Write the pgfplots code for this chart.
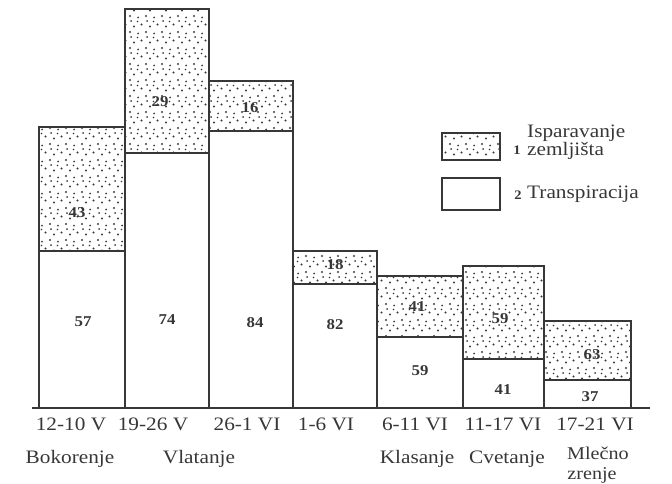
\documentclass[border=0pt]{standalone}
\usepackage{pgfplots}
\pgfplotsset{compat=1.18}
\usetikzlibrary{patterns}
\usepackage{fontspec}
\setmainfont{Liberation Serif}[FakeStretch=1.12]
\definecolor{ink}{RGB}{55,55,55}
\definecolor{dotc}{RGB}{60,60,60}
\pgfdeclarepatternformonly{sparsedots}{\pgfqpoint{-2pt}{-2pt}}{\pgfqpoint{18pt}{18pt}}{\pgfqpoint{16pt}{16pt}}{%
  \pgfpathcircle{\pgfqpoint{2pt}{3pt}}{1.2pt}%
  \pgfpathcircle{\pgfqpoint{10pt}{1.5pt}}{1.0pt}%
  \pgfpathcircle{\pgfqpoint{6pt}{8.5pt}}{1.1pt}%
  \pgfpathcircle{\pgfqpoint{13.5pt}{10.5pt}}{1.2pt}%
  \pgfpathcircle{\pgfqpoint{3pt}{14pt}}{1.0pt}%
  \pgfpathcircle{\pgfqpoint{9.5pt}{13.5pt}}{0.8pt}%
  \pgfusepath{fill}}
\begin{document}
\begin{tikzpicture}
\begin{axis}[
  scale only axis, width=672pt, height=483pt,
  xmin=0, xmax=672, ymin=-75, ymax=408,
  hide axis, clip=false,
  every axis plot/.append style={line width=1.6pt, draw=ink, mark=none, line join=miter},
  lowbar/.style={fill=white},
  topbar/.style={pattern=sparsedots, pattern color=dotc},
]
\path (axis cs:0,-75) rectangle (axis cs:672,408);
% Transpiracija (lower parts)
\addplot[lowbar] coordinates {(39,0) (39,157) (125,157) (125,0)} -- cycle;
\addplot[lowbar] coordinates {(125,0) (125,255) (209,255) (209,0)} -- cycle;
\addplot[lowbar] coordinates {(209,0) (209,277) (293,277) (293,0)} -- cycle;
\addplot[lowbar] coordinates {(293,0) (293,124) (377,124) (377,0)} -- cycle;
\addplot[lowbar] coordinates {(377,0) (377,71) (463,71) (463,0)} -- cycle;
\addplot[lowbar] coordinates {(463,0) (463,49) (544,49) (544,0)} -- cycle;
\addplot[lowbar] coordinates {(544,0) (544,28) (631,28) (631,0)} -- cycle;
% Isparavanje zemljista (upper parts)
\addplot[topbar] coordinates {(39,157) (39,281) (125,281) (125,157)} -- cycle;
\addplot[topbar] coordinates {(125,255) (125,399) (209,399) (209,255)} -- cycle;
\addplot[topbar] coordinates {(209,277) (209,327) (293,327) (293,277)} -- cycle;
\addplot[topbar] coordinates {(293,124) (293,157) (377,157) (377,124)} -- cycle;
\addplot[topbar] coordinates {(377,71) (377,132) (463,132) (463,71)} -- cycle;
\addplot[topbar] coordinates {(463,49) (463,142) (544,142) (544,49)} -- cycle;
\addplot[topbar] coordinates {(544,28) (544,87) (631,87) (631,28)} -- cycle;
% baseline
\addplot[line width=1.8pt] coordinates {(32,0) (650,0)};
% values
\begin{scope}[every node/.style={font=\fontsize{15}{15}\selectfont\bfseries, text=ink}]
\node at (axis cs:77,195) {43};
\node at (axis cs:83,86) {57};
\node at (axis cs:160,306) {29};
\node at (axis cs:167,88) {74};
\node at (axis cs:250,300) {16};
\node at (axis cs:255,85) {84};
\node at (axis cs:335,143) {18};
\node at (axis cs:335,83) {82};
\node at (axis cs:417,101) {41};
\node at (axis cs:420,37) {59};
\node at (axis cs:500,89) {59};
\node at (axis cs:503,18) {41};
\node at (axis cs:592,53) {63};
\node at (axis cs:590,11) {37};
\end{scope}
% tick labels
\begin{scope}[every node/.style={font=\fontsize{19}{19}\selectfont, text=ink, anchor=base, inner sep=0pt}]
\node at (axis cs:71,-22) {12-10 V};
\node at (axis cs:153,-22) {19-26 V};
\node at (axis cs:247,-22) {26-1 VI};
\node at (axis cs:326,-22) {1-6 VI};
\node at (axis cs:415,-22) {6-11 VI};
\node at (axis cs:503,-22) {11-17 VI};
\node at (axis cs:595,-22) {17-21 VI};
\node at (axis cs:70,-55) {Bokorenje};
\node at (axis cs:199,-55) {Vlatanje};
\node at (axis cs:417,-55) {Klasanje};
\node at (axis cs:507,-55) {Cvetanje};
\end{scope}
\begin{scope}[every node/.style={font=\fontsize{18}{18}\selectfont, text=ink, anchor=base, inner sep=0pt}]
\node at (axis cs:598,-51) {Mlečno};
\node at (axis cs:592,-71) {zrenje};
\end{scope}
% legend
\draw[line width=1.6pt, draw=ink, pattern=sparsedots, pattern color=dotc] (axis cs:442,248) rectangle (axis cs:500,275);
\draw[line width=1.6pt, draw=ink, fill=white] (axis cs:442,198) rectangle (axis cs:500,230);
\node[font=\fontsize{13}{13}\selectfont\bfseries, text=ink] at (axis cs:517,258) {1};
\node[font=\fontsize{13}{13}\selectfont\bfseries, text=ink] at (axis cs:518,213) {2};
\begin{scope}[every node/.style={font=\fontsize{19}{19}\selectfont, text=ink, anchor=base west, inner sep=0pt}]
\node at (axis cs:527,270) {Isparavanje};
\node at (axis cs:527,252) {zemljišta};
\node at (axis cs:527,210) {Transpiracija};
\end{scope}
\end{axis}
\end{tikzpicture}
\end{document}
